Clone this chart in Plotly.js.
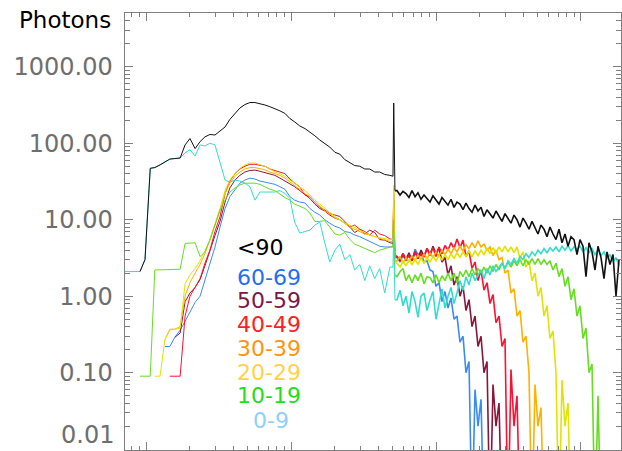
<!DOCTYPE html>
<html><head><meta charset="utf-8">
<script src="https://cdn.plot.ly/plotly-3.0.1.min.js"></script>
<style>html,body{margin:0;padding:0;background:#fff;overflow:hidden}</style>
</head><body><div id="chart" style="width:622px;height:451px"></div>
<script>
// Photon energy bins (keV)
const energyKeV = [
7.16,7.76,8.40,9.09,9.84,10.7,11.5,12.5,13.5,14.6,
15.8,17.2,18.6,20.1,21.8,23.6,25.5,27.6,29.9,32.4,
35.1,37.9,41.1,44.4,48.1,52.1,56.4,61.0,66.1,71.5,
77.4,83.8,90.8,98.3,106,115,125,135,146,158,
171,185,201,217,235,255,275,298,323,349,
378,409,443,481,
505,511,521,
538,565,592,621,651,683,717,751,788,827,
867,909,953,1000,1049,1100,1154,1210,1269,1331,
1396,1464,1536,1610,1689,1772,1858,1949,2044,2143,
2248,2358,2473,2593,2720,2853,2992,3138,3290,3451,
3619,3796,3981,4175,4379,4593,4817,5051,5298,5557,
5828,6112,6410,6723,7051,7396,7757,8135,8532,8948,
9385,9843,10323,10827,11356,11910,12491,13100,13740,14411,
15114,15849,16624,17435,18286];

// Photon counts per angle range (0.001 = empty bin, drawn below the axis)
const countsLt90 = [
null,null,null,2.1,3.0,47,48,52,57,62,
63,64,95,115,85,105,121,130,128,145,
163,205,245,288,320,340,340,330,316,300,
285,265,245,210,190,168,155,140,125,110,
98,89,76,72,61,56,51,50,46,46,
42,42,39,38,
37,335,24,
24,21,23.5,22,19.5,24,20,22.5,18.5,21,
19,17,20.5,18,16,19.5,17.5,15.5,18.5,14.5,
17,16,13.5,16.5,14,12.5,15.5,13,14.5,11,
13.5,12,10.5,13,11,9.5,12,10.5,9,11.5,
10,8,10.5,9,7.5,9.5,8,6.5,8.5,7.5,
6,8,6.5,5.5,7.5,5,6.5,4.5,6,5.5,
3.5,5.5,4.5,1.8,5,3.8,2.2,4.5,3.2,1.7,
3.8,2.6,3.5,1.0,3.0];

const counts60to69 = [
null,null,null,null,null,null,null,null,0.22,0.22,
0.29,0.36,0.47,0.63,0.83,1.0,1.6,2.7,4.4,8,
14,20,25,30,33,35,34,32,31,30,
29,27,25,20,18,17,16.5,14,12.5,11.5,
10,9,8.2,7.8,7.0,6.8,6.3,6.0,5.6,5.2,
4.8,4.5,4.4,4.4,
4.4,12,3.2,
3.2,2.8,3.4,2.9,3.5,2.9,4.1,3.5,3.7,2.8,
2.9,2.2,2.1,1.35,1.5,0.85,1.15,0.7,0.95,0.5,
0.55,0.25,0.3,0.1,0.14,0.001,0.06,0.02,0.045,0.001];

const counts50to59 = [
null,null,null,null,null,null,null,null,null,null,
0.29,0.33,0.85,1.1,1.3,1.65,2.5,4.0,6.2,9.5,
17,26,33,38,42,44,44.5,43,41,39,
38,35,32,29,27,24,21,19,16,14,
13,11.5,10.5,10,9,8,6.8,7.5,6.5,7.3,
6.8,5.5,5.4,5.0,
4.9,18,3.4,
3.3,2.9,3.6,3.0,3.7,2.9,3.8,3.1,4.0,3.3,
4.2,3.4,4.5,3.6,4.3,2.8,3.2,1.9,2.5,1.4,
1.8,1.0,1.35,0.65,0.9,0.4,0.55,0.22,0.3,0.1,
0.14,0.001,0.07,0.02,0.04,0.001];

const counts40to49 = [
null,null,null,null,null,null,null,null,null,0.09,
0.09,0.09,0.55,1.0,1.3,1.7,2.7,4.0,7,11,
22,32,40,46,50,53,53,52,50,46,
44,42,40,34,30,27,21,20,17,14.5,
13.4,12,11.5,11,9.5,8,8.5,7.5,7.0,6.3,
7.3,6.5,6.2,5.6,
5.5,22,3.2,
3.3,3.0,3.6,3.0,3.4,2.9,3.8,3.2,3.5,3.3,
4.2,3.5,4.3,3.3,4.4,3.6,4.6,4.0,5.0,4.2,
5.6,4.3,5.4,3.3,3.9,2.3,2.8,1.6,2.2,1.2,
1.5,0.8,1.05,0.45,0.55,0.22,0.28,0.001,0.11,0.02,
0.05,0.001];

const counts30to39 = [
null,null,null,null,null,null,null,null,0.27,0.37,
0.37,0.4,1.0,1.5,2.0,2.6,3.6,5.4,8.5,13,
22,30,37,42,46,48,48,47,45,42,
40,38,35,31,28,25,22,20,17,15,
13,12,10.5,10,9,8,7.5,7,6.5,6.3,
6,5.8,5.5,5.2,
5.2,25,2.9,
2.9,3.3,2.7,3.2,2.8,3.4,2.9,3.5,3.0,3.6,
3.1,3.7,3.2,3.8,3.4,4.0,3.5,4.1,3.6,4.3,
3.8,4.5,3.9,4.7,4.2,5.0,4.3,5.3,4.4,4.8,
4.0,4.4,3.4,4.0,3.0,3.2,2.0,2.2,1.1,1.25,
0.55,0.65,0.25,0.3,0.1,0.001,0.07,0.02,0.035,0.001];

const counts20to29 = [
null,null,null,null,null,null,0.09,0.09,0.27,0.36,
0.37,0.38,1.45,1.9,2.3,2.9,3.9,5.5,8.8,14,
24,33,40,47,52,55,55,53,50,46,
42,40,37,33,30,27,24,21,18,16,
14,12.5,11,10,9,8.5,7.8,7.3,6.8,6.3,
6,5.8,5.7,5.5,
5.5,28,2.9,
2.7,2.4,2.9,2.5,3.0,2.6,3.0,2.6,3.1,2.7,
3.2,2.8,3.3,2.9,3.4,3.0,3.5,3.0,3.6,3.1,
3.7,3.2,3.8,3.3,3.9,3.3,3.9,3.4,4.0,3.5,
4.2,3.6,4.3,3.7,4.4,3.8,4.5,3.8,4.4,3.7,
4.4,3.1,3.8,2.4,2.9,1.6,2.0,1.0,1.3,0.55,
0.75,0.28,0.35,0.1,0.001,0.08,0.02,0.04,0.001];

const counts10to19 = [
null,null,null,0.09,0.09,0.09,2.2,2.2,2.2,2.2,
2.2,2.25,4.9,4.9,5.0,3.3,3.8,5.4,8.5,13.5,
18,23,26,28.5,30,30,30,29,27,25,
24,21.5,19.5,18,16,15,14,12.2,9.5,9.5,
9.7,8,6.5,6.3,6.8,5.5,4.8,4.5,4.2,3.9,
3.7,4.0,4.2,4.4,
4.5,10,1.9,
1.8,2.1,2.3,1.6,1.9,1.5,1.9,1.6,2.0,1.45,
1.8,1.75,1.5,1.9,1.5,1.85,1.6,2.0,1.6,2.0,
1.5,2.1,1.8,2.2,1.8,2.3,1.9,2.3,2.0,2.4,
2.0,2.5,2.1,2.6,2.2,2.7,2.3,2.8,2.4,2.9,
2.5,3.0,2.5,3.0,2.6,3.1,2.6,3.1,2.6,3.0,
2.6,2.9,2.2,2.7,1.8,2.3,1.35,1.8,0.9,1.25,
0.55,0.75,0.28,0.38,0.1,0.13,0.001,0.05,0.001];

const counts0to9 = [
2.1,2.1,2.1,2.1,3.0,47,48,52,57,62,
63,64,75,82,68,95,92,100,95,58,
33,31,33,32,30,27,18,23,23,23,
23,24,22,19,9.3,6.7,7.0,7.3,8.5,9.3,
5.0,2.8,4.0,4.8,3.0,3.5,2.2,2.6,1.6,2.5,
1.7,2.3,1.1,2.4,
2.4,6,0.9,
0.9,1.2,0.75,1.0,0.6,1.15,0.85,0.53,1.0,1.1,
0.65,0.9,1.15,0.5,0.8,1.25,0.7,1.0,1.3,0.8,
1.1,1.6,1.2,1.8,1.4,2.0,1.6,1.9,2.2,1.7,
2.3,1.9,2.5,2.1,2.4,2.7,2.3,2.9,2.6,3.1,
2.7,3.3,3.0,3.6,3.2,3.8,3.4,4.0,3.6,4.2,
3.7,4.3,3.9,4.4,3.8,4.5,4.0,4.6,3.9,4.4,
4.1,4.5,3.8,4.3,3.7,4.2,3.5,4.0,3.4,3.8,
3.1,3.5,2.8,3.2,2.5];

const seriesNames = ['60-69','50-59','40-49','30-39','20-29','10-19','0-9','<90'];
const seriesCounts = [counts60to69,counts50to59,counts40to49,counts30to39,counts20to29,counts10to19,counts0to9,countsLt90];
const lineColors = ['#3a8cf0','#8b1538','#ff1030','#ffb000','#e0e400','#66dd22','#33ddcc','#111111'];

const legendNames = ['<90','60-69','50-59','40-49','30-39','20-29','10-19','0-9'];
const legendColors = ['#000000','#1f70f0','#7a1848','#ff2020','#ff9410','#ffd24a','#22dd22','#8fcfff'];

const yTickVals = [0.01,0.1,1,10,100,1000];
const yTickText = ['','0.10','1.00','10.00','100.00','1000.00'];
const yMinor = [0.02,0.03,0.04,0.05,0.06,0.07,0.08,0.09,0.2,0.3,0.4,0.5,0.6,0.7,0.8,0.9,
  2,3,4,5,6,7,8,9,20,30,40,50,60,70,80,90,200,300,400,500,600,700,800,900,2000,3000,4000,5000];
const xTickVals = [10,100,1000,10000];
const xMinor = [8,9,20,30,40,50,60,70,80,90,200,300,400,500,600,700,800,900,
  2000,3000,4000,5000,6000,7000,8000,9000];

// low-energy part thin, noisy high-energy part (above the 511 keV line) a bit thicker
const splitAt = 56;
const traces = [];
seriesCounts.forEach((c,i)=>{
  traces.push({x: energyKeV.slice(0,splitAt+1), y: c.slice(0,splitAt+1), type:'scatter', mode:'lines',
    name: seriesNames[i], line:{color: lineColors[i], width:1}, connectgaps:false, hoverinfo:'skip'});
  traces.push({x: energyKeV.slice(splitAt), y: c.slice(splitAt), type:'scatter', mode:'lines',
    name: seriesNames[i], line:{color: lineColors[i], width:1.6}, connectgaps:false, hoverinfo:'skip'});
});

const axisGray = '#808080';
const labelGray = '#6e6e6e';
const legendY = [248,277,300,324,348,372,395,420];
const annotations = legendNames.map((t,i)=>({
  text: t, xref:'paper', yref:'paper', showarrow:false,
  x: (i===7 ? (251-125) : (235-125))/496, y: (450-legendY[i])/437,
  xanchor:'left', yanchor:'middle',
  font:{family:'DejaVu Sans', size:22, color: legendColors[i]}
}));
annotations.push({text:'Photons', xref:'paper', yref:'paper', showarrow:false,
  x:(113-125)/496, y:(450-20)/437, xanchor:'right', yanchor:'middle',
  font:{family:'DejaVu Sans', size:23, color:'#000'}});
annotations.push({text:'0.01', xref:'paper', yref:'paper', showarrow:false,
  x:(115-125)/496, y:0, xanchor:'right', yanchor:'bottom', borderpad:0,
  font:{family:'DejaVu Sans', size:24, color:labelGray}});

const layout = {
  width:622, height:451,
  margin:{l:125, r:1, t:13, b:1, pad:0},
  paper_bgcolor:'#ffffff', plot_bgcolor:'#ffffff',
  showlegend:false,
  xaxis:{type:'log', range:[0.8552,4.2759], showline:true, linecolor:axisGray, linewidth:1.5,
    mirror:'allticks', ticks:'inside', ticklen:8, tickwidth:1, tickcolor:axisGray,
    tickmode:'array', tickvals:xTickVals, showticklabels:false, showgrid:false, zeroline:false,
    minor:{tickmode:'array', tickvals:xMinor, ticks:'inside', ticklen:4, tickwidth:1, tickcolor:axisGray, showgrid:false}},
  yaxis:{type:'log', range:[-2.0105,3.702], showline:true, linecolor:axisGray, linewidth:1.5,
    mirror:'allticks', ticks:'inside', ticklen:8, tickwidth:1, tickcolor:axisGray,
    tickmode:'array', tickvals:yTickVals, ticktext:yTickText, showgrid:false, zeroline:false,
    ticklabelstandoff:6,
    tickfont:{family:'DejaVu Sans', size:24, color:labelGray},
    minor:{tickmode:'array', tickvals:yMinor, ticks:'inside', ticklen:5, tickwidth:1, tickcolor:axisGray, showgrid:false}},
  annotations: annotations
};
Plotly.newPlot('chart', traces, layout, {staticPlot:true, displayModeBar:false});
</script></body></html>
